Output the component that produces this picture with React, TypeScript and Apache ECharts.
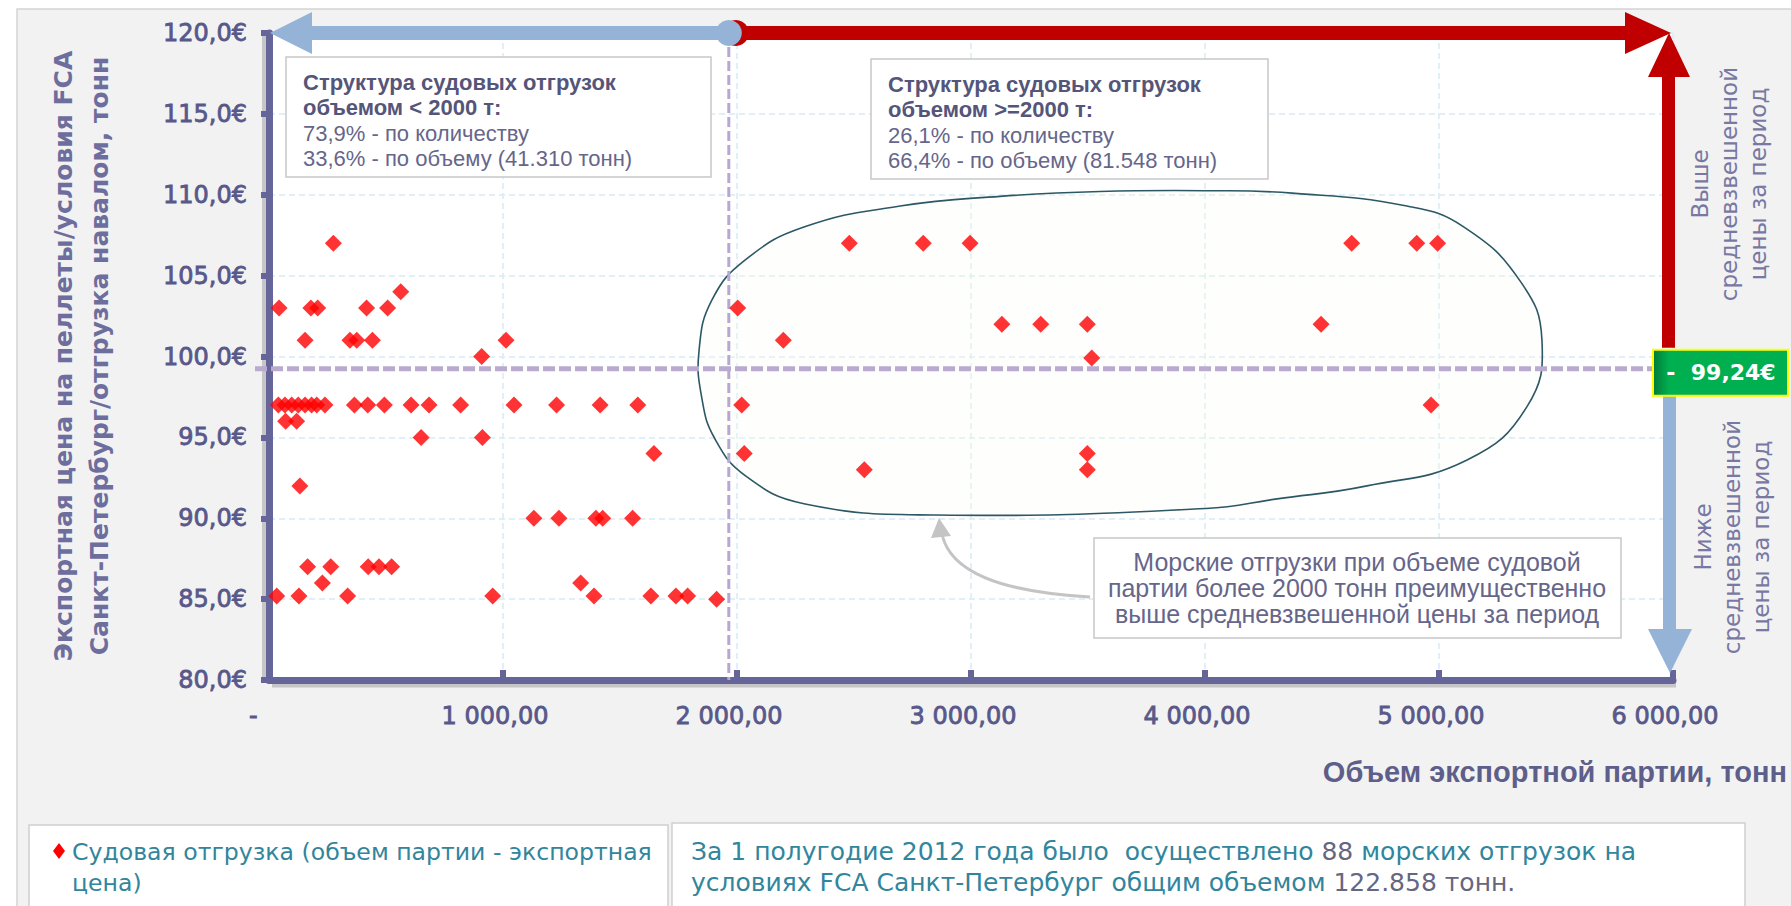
import React, { useEffect, useRef } from 'react';
import * as echarts from 'echarts';

// Shipments: volume of a shipping batch (t) and export price (€/t)
const smallVolumes = [275, 43, 179, 208, 417, 507, 563, 154, 346, 375, 442, 1013, 909,
  40, 68, 97, 125, 154, 182, 204, 239, 365, 422, 493, 607, 684, 819, 1047, 1229, 1415, 1576,
  71, 118, 650, 912, 1645, 132, 1132, 1239, 1397, 1426, 1554,
  165, 264, 424, 470, 524, 228, 1332, 33, 128, 336, 956, 1389, 1632, 1739, 1789, 1913];
const smallPrices = [107, 103, 103, 103, 103, 103, 104, 101, 101, 101, 101, 101, 100,
  97, 97, 97, 97, 97, 97, 97, 97, 97, 97, 97, 97, 97, 97, 97, 97, 97, 97,
  96, 96, 95, 95, 94, 92, 90, 90, 90, 90, 90,
  87, 87, 87, 87, 87, 86, 86, 85.2, 85.2, 85.2, 85.2, 85.2, 85.2, 85.2, 85.2, 85];
const largeVolumes = [2003, 2020, 2031, 2198, 2480, 2544, 2796, 2996, 3132, 3298, 3497, 3516,
  3497, 3497, 4496, 4627, 4905, 4994, 4966];
const largePrices = [103, 97, 94, 101, 107, 93, 107, 107, 102, 102, 102, 99.9,
  94, 93, 102, 107, 107, 107, 97];

const xTicks = [0, 1000, 2000, 3000, 4000, 5000, 6000];
const yTicks = [80, 85, 90, 95, 100, 105, 110, 115, 120];
const avgPrice = 99.24;
const splitVolume = 1965;

// outline of the highlighted group (volume, price)
const outlineVol = [1838, 1893, 2038, 2286, 2697, 3124, 3551, 4004, 4372, 4863, 5107, 5350, 5440,
  5376, 5120, 4692, 4308, 4004, 2850, 2286, 2038, 1906, 1850];
const outlinePrice = [100.4, 103.5, 106.0, 108.0, 109.3, 109.9, 110.2, 110.25, 110.1, 109.3, 108.0,
  104.6, 101.0, 96.9, 93.6, 92.0, 91.2, 90.6, 90.2, 90.9, 92.6, 94.9, 97.4];

const FONT = '"Liberation Sans", Arial, sans-serif';
const WIDE = '"DejaVu Sans", Verdana, sans-serif';
const AXIS = '#65659a';
const LABEL = '#58588a';

const fmtX = (v: number) => {
  if (v === 0) return '-  ';
  const th = Math.floor(v / 1000);
  const rest = String(v % 1000).padStart(3, '0');
  return `${th} ${rest},00`;
};

export default function App() {
  const ref = useRef<HTMLDivElement>(null);
  useEffect(() => {
    if (!ref.current) return;
    const chart = echarts.init(ref.current, undefined, { renderer: 'svg' });
    const data = smallVolumes.map((v, i) => [v, smallPrices[i]])
      .concat(largeVolumes.map((v, i) => [v, largePrices[i]]));
    chart.setOption({
      animation: false,
      backgroundColor: '#ffffff',
      grid: { left: 269, right: 118, top: 33, bottom: 226, show: true, backgroundColor: '#ffffff', borderWidth: 0 },
      xAxis: {
        type: 'value', min: 0, max: 6000, interval: 1000,
        axisLine: { show: true, onZero: false, lineStyle: { color: AXIS, width: 7 } },
        axisTick: { show: true, inside: true, length: 10, lineStyle: { color: AXIS, width: 6 } },
        axisLabel: { formatter: fmtX, color: LABEL, fontSize: 24, fontFamily: WIDE, margin: 24,
          textBorderColor: LABEL, textBorderWidth: 0.8,
          padding: [0, 16, 0, 0], customValues: xTicks },
        splitLine: { show: true, lineStyle: { color: '#d6ecf3', type: [6, 4], width: 1.5 } },
      },
      yAxis: {
        type: 'value', min: 80, max: 120, interval: 5,
        axisLine: { show: true, onZero: false, lineStyle: { color: AXIS, width: 7 } },
        axisTick: { show: true, length: 8, lineStyle: { color: AXIS, width: 6 } },
        axisLabel: { formatter: (v: number) => v.toFixed(1).replace('.', ',') + '€', color: LABEL, fontSize: 24,
          textBorderColor: LABEL, textBorderWidth: 0.8,
          fontFamily: WIDE, margin: 22, customValues: yTicks },
        splitLine: { show: true, lineStyle: { color: '#d6ecf3', type: [6, 4], width: 1.5 } },
      },
      series: [{
        type: 'scatter', data, symbol: 'diamond', symbolSize: 17, z: 5,
        itemStyle: { color: '#ff0000' },
      }],
    });

    const p = (x: number, y: number) => chart.convertToPixel({ gridIndex: 0 } as any, [x, y]) as number[];
    const o = p(0, 80);
    const top = p(6000, 120);
    const x0 = o[0], y80 = o[1], x6 = top[0], y120 = top[1];
    const split = p(splitVolume, 120);
    const avgY = p(0, avgPrice)[1];
    const outline = outlineVol.map((v, i) => p(v, outlinePrice[i]));
    const blue = '#95b3d7';
    const red = '#c00000';

    const text = (t: string, x: number, y: number, opts: any = {}) => ({
      type: 'text', z: 20,
      style: { text: t, x, y, fill: opts.fill || '#66668a', fontSize: opts.size || 22, fontFamily: opts.family || FONT,
        fontWeight: opts.weight || 'normal', align: opts.align || 'left', verticalAlign: 'middle', ...(opts.extra || {}) },
    });

    const graphic: any[] = [
      // outer panel
      { type: 'rect', z: -10, silent: true, shape: { x: 17, y: 9, width: 1800, height: 920 },
        style: { fill: '#f2f2f2', stroke: '#d4d4d4', lineWidth: 1.5 } },
      // axis shadows
      { type: 'line', z: -5, shape: { x1: x0 + 3, y1: y80 + 4, x2: x6 + 3, y2: y80 + 4 },
        style: { stroke: 'rgba(0,0,0,0.18)', lineWidth: 7 } },
      { type: 'line', z: -5, shape: { x1: x0 - 4, y1: y120 + 2, x2: x0 - 4, y2: y80 + 2 },
        style: { stroke: 'rgba(0,0,0,0.18)', lineWidth: 6 } },
      // highlighted group outline
      { type: 'polygon', z: 1, shape: { points: outline, smooth: 0.45 },
        style: { fill: 'rgba(253,250,245,0.25)', stroke: '#2c5866', lineWidth: 1.6 } },
      // split and average lines
      { type: 'line', z: 3, shape: { x1: split[0], y1: y120, x2: split[0], y2: y80 },
        style: { stroke: '#b6a8d2', lineWidth: 3, lineDash: [10, 4] } },
      { type: 'line', z: 3, shape: { x1: x0 - 14, y1: avgY, x2: 1652, y2: avgY },
        style: { stroke: '#b9aad0', lineWidth: 5, lineDash: [12, 4] } },
      // top arrows
      { type: 'rect', z: 10, shape: { x: split[0], y: y120 - 7, width: x6 - 46 - split[0], height: 14 }, style: { fill: red } },
      { type: 'polygon', z: 10, shape: { points: [[x6 - 2, y120], [x6 - 48, y120 - 21], [x6 - 48, y120 + 21]] }, style: { fill: red } },
      { type: 'circle', z: 11, shape: { cx: split[0] + 7, cy: y120, r: 13 }, style: { fill: red } },
      { type: 'rect', z: 12, shape: { x: x0 + 40, y: y120 - 7, width: split[0] - x0 - 40, height: 14 }, style: { fill: blue } },
      { type: 'polygon', z: 12, shape: { points: [[x0 + 1, y120], [x0 + 43, y120 - 21], [x0 + 43, y120 + 21]] }, style: { fill: blue } },
      { type: 'circle', z: 13, shape: { cx: split[0], cy: y120, r: 13 }, style: { fill: blue } },
      // right vertical arrows
      { type: 'rect', z: 10, shape: { x: x6 - 11, y: y120 + 42, width: 13, height: avgY - 21 - (y120 + 42) }, style: { fill: red } },
      { type: 'polygon', z: 10, shape: { points: [[x6 - 4, y120], [x6 - 25, y120 + 44], [x6 + 17, y120 + 44]] }, style: { fill: red } },
      { type: 'rect', z: 10, shape: { x: x6 - 10, y: avgY + 26, width: 13, height: (y80 - 50) - (avgY + 26) }, style: { fill: blue } },
      { type: 'polygon', z: 10, shape: { points: [[x6 - 3, y80 - 7], [x6 - 25, y80 - 51], [x6 + 19, y80 - 51]] }, style: { fill: blue } },
      // average price badge
      { type: 'rect', z: 14, shape: { x: 1653, y: avgY - 19, width: 135, height: 46 },
        style: { fill: new echarts.graphic.LinearGradient(0, 0, 1, 0, [
          { offset: 0, color: '#007a3a' }, { offset: 0.12, color: '#00b050' }, { offset: 1, color: '#00b050' }]),
          stroke: '#ffff00', lineWidth: 2 } },
      text('-  99,24€', 1721, avgY + 4, { fill: '#ffffff', size: 22, weight: 'bold', family: WIDE, align: 'center' }),
      // side labels
      { type: 'text', z: 20, x: 1729, y: 184, rotation: Math.PI / 2,
        style: { text: 'Выше\nсредневзвешенной\nцены за период', x: 0, y: 0, fill: '#7878a2', fontSize: 23,
          fontFamily: WIDE, lineHeight: 29, align: 'center', verticalAlign: 'middle' } },
      { type: 'text', z: 20, x: 1732, y: 537, rotation: Math.PI / 2,
        style: { text: 'Ниже\nсредневзвешенной\nцены за период', x: 0, y: 0, fill: '#7878a2', fontSize: 23,
          fontFamily: WIDE, lineHeight: 29, align: 'center', verticalAlign: 'middle' } },
      // y axis title
      { type: 'text', z: 20, x: 81, y: 356, rotation: Math.PI / 2,
        style: { text: 'Экспортная цена на пеллеты/условия FCA\nСанкт-Петербург/отгрузка навалом, тонн', x: 0, y: 0,
          fill: '#6e6e9e', fontSize: 25, fontWeight: 'bold', fontFamily: WIDE, lineHeight: 36, align: 'center', verticalAlign: 'middle' } },
      // x axis title
      text('Объем экспортной партии, тонн', 1787, 772, { fill: '#5e5e8a', size: 29, weight: 'bold', align: 'right' }),
      // structure boxes
      { type: 'rect', z: 15, shape: { x: 286, y: 57, width: 425, height: 120 }, style: { fill: '#ffffff', stroke: '#c8c8c8', lineWidth: 1.5 } },
      text('Структура судовых отгрузок', 303, 82, { fill: '#55557a', weight: 'bold' }),
      text('объемом < 2000 т:', 303, 107, { fill: '#55557a', weight: 'bold' }),
      text('73,9% - по количеству', 303, 133, { fill: '#66668a' }),
      text('33,6% - по объему (41.310 тонн)', 303, 158, { fill: '#66668a' }),
      { type: 'rect', z: 15, shape: { x: 871, y: 59, width: 397, height: 120 }, style: { fill: '#ffffff', stroke: '#c8c8c8', lineWidth: 1.5 } },
      text('Структура судовых отгрузок', 888, 84, { fill: '#55557a', weight: 'bold' }),
      text('объемом >=2000 т:', 888, 109, { fill: '#55557a', weight: 'bold' }),
      text('26,1% - по количеству', 888, 135, { fill: '#66668a' }),
      text('66,4% - по объему (81.548 тонн)', 888, 160, { fill: '#66668a' }),
      // comment box with curved pointer
      { type: 'bezierCurve', z: 15, shape: { x1: 1090, y1: 597, cpx1: 1000, cpy1: 592, cpx2: 950, cpy2: 572, x2: 942, y2: 534 },
        style: { stroke: '#c4c4c4', lineWidth: 3, fill: 'none' } },
      { type: 'polygon', z: 15, shape: { points: [[939, 518], [931, 538], [951, 536]] }, style: { fill: '#c4c4c4' } },
      { type: 'rect', z: 15, shape: { x: 1094, y: 538, width: 527, height: 100 }, style: { fill: '#ffffff', stroke: '#c8c8c8', lineWidth: 1.5 } },
      text('Морские отгрузки при объеме судовой', 1357, 562, { fill: '#66668a', size: 25, align: 'center' }),
      text('партии более 2000 тонн преимущественно', 1357, 588, { fill: '#66668a', size: 25, align: 'center' }),
      text('выше средневзвешенной цены за период', 1357, 614, { fill: '#66668a', size: 25, align: 'center' }),
      // legend boxes
      { type: 'rect', z: 15, shape: { x: 29, y: 825, width: 639, height: 120 }, style: { fill: '#ffffff', stroke: '#d0d0d0', lineWidth: 1.5 } },
      { type: 'polygon', z: 16, shape: { points: [[59, 843], [65, 851], [59, 859], [53, 851]] }, style: { fill: '#ff0000' } },
      text('Судовая отгрузка (объем партии - экспортная', 72, 852, { fill: '#31859c', size: 23.6, family: WIDE }),
      text('цена)', 72, 883, { fill: '#31859c', size: 23.6, family: WIDE }),
      { type: 'rect', z: 15, shape: { x: 672, y: 823, width: 1073, height: 120 }, style: { fill: '#ffffff', stroke: '#d0d0d0', lineWidth: 1.5 } },
      { type: 'text', z: 20, style: { x: 691, y: 851, verticalAlign: 'middle', fontSize: 25, fontFamily: WIDE, fill: '#31859c',
        text: 'За 1 полугодие 2012 года было  осуществлено {g|88} морских отгрузок на',
        rich: { g: { fill: '#666680', fontSize: 25, fontFamily: WIDE } } } },
      { type: 'text', z: 20, style: { x: 691, y: 882, verticalAlign: 'middle', fontSize: 25, fontFamily: WIDE, fill: '#31859c',
        text: 'условиях FCA Санкт-Петербург общим объемом {g|122.858 тонн.}',
        rich: { g: { fill: '#666680', fontSize: 25, fontFamily: WIDE } } } },
    ];
    chart.setOption({ graphic });
    return () => chart.dispose();
  }, []);
  return <div ref={ref} style={{ position: 'absolute', left: 0, top: 0, width: 1791, height: 906 }} />;
}
